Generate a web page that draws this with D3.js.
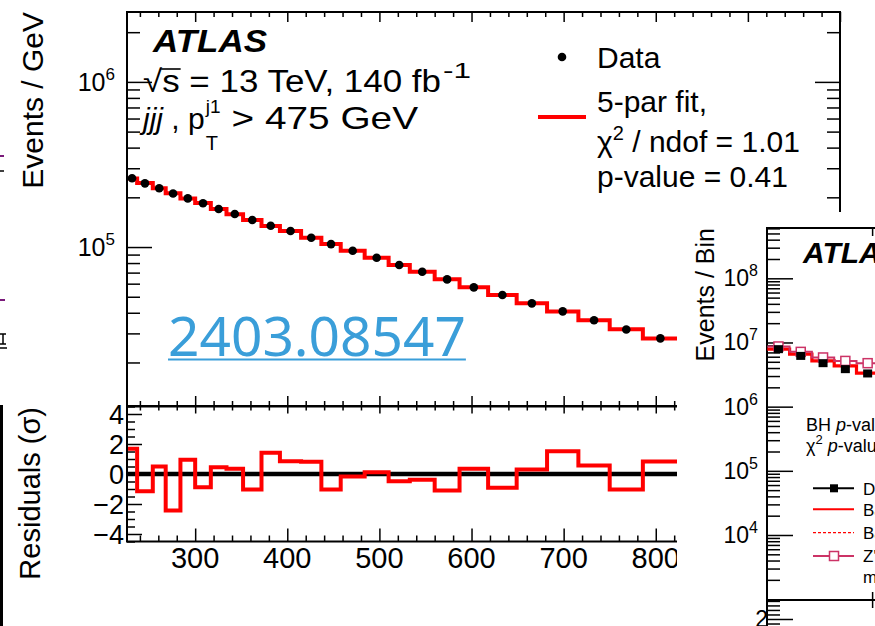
<!DOCTYPE html>
<html><head><meta charset="utf-8">
<script src="https://cdn.jsdelivr.net/npm/d3@7"></script>
<style>
body{margin:0;background:#fff}
svg{display:block}
text{font-family:"Liberation Sans",Arial,Helvetica,sans-serif;fill:#000}
</style>
</head><body>
<svg id="c" width="875" height="626"></svg>
<script>
// ---------------- main plot data (dijet mass, GeV) ----------------
const binEdges = [226, 237, 254, 268, 284, 300, 317, 334, 352, 372, 392, 415, 437, 458, 484, 510, 533, 560, 587, 618, 649, 682, 716, 750, 786, 824];
const dataValues = [2.61e5, 2.43e5, 2.27e5, 2.11e5, 1.97e5, 1.84e5, 1.70e5, 1.585e5, 1.458e5, 1.346e5, 1.25e5, 1.138e5, 1.042e5, 9.5e4, 8.61e4, 7.78e4, 7.08e4, 6.37e4, 5.70e4, 5.12e4, 4.56e4, 4.08e4, 3.60e4, 3.17e4, 2.80e4];
const fitValues  = [2.60e5, 2.44e5, 2.27e5, 2.12e5, 1.97e5, 1.85e5, 1.70e5, 1.58e5, 1.46e5, 1.34e5, 1.25e5, 1.137e5, 1.043e5, 9.5e4, 8.61e4, 7.79e4, 7.09e4, 6.38e4, 5.70e4, 5.13e4, 4.56e4, 4.07e4, 3.60e4, 3.18e4, 2.79e4];
const residuals  = [1.68, -1.15, 0.5, -2.43, 0.95, -0.88, 0.45, 0.35, -1.03, 1.41, 0.85, 0.81, -1.03, -0.17, 0.12, -0.48, -0.39, -1.1, 0.35, -0.92, 0.3, 1.52, 0.57, -1.03, 0.83];
const xDomain = [226, 1000];
const xMajorTicks = [300, 400, 500, 600, 700, 800, 900, 1000];
const xTickLabels = ["300", "400", "500", "600", "700", "800", "900", "1000"];
const yUpperDomain = [1.09e4, 2.65e6];
const yDecades = [5, 6];
const resDomain = [-4.5, 4.5];
const resMajorTicks = [-4, -2, 0, 2, 4];

// ---------------- overlapping second plot ----------------
const p2BinEdges = [0, 1, 2, 3, 4, 5];
const p2Data   = [7.87e6, 6.18e6, 4.76e6, 3.84e6, 3.29e6];
const p2Fit    = [7.87e6, 6.58e6, 5.16e6, 4.32e6, 3.33e6];
const p2Signal = [8.67e6, 7.14e6, 5.84e6, 5.16e6, 4.76e6];
const p2XDomain = [0, 5];
const p2XTicks = [4.7];
const p2YDomain = [Math.pow(10, 2.987), Math.pow(10, 8.784)];
const p2Decades = [4, 5, 6, 7, 8];
const p2RatioDomain = [1.845, 2.42];
const p2RatioTicks = [2];

const svg = d3.select("#c");

function logMinor(dom, d0, d1) {
  const out = [];
  for (let d = d0; d <= d1; d++) for (let k = 2; k <= 9; k++) {
    const v = k * Math.pow(10, d);
    if (v >= dom[0] && v <= dom[1]) out.push(v);
  }
  return out;
}
function tickGroup(parent, axisFn, scale, values, size, tx, ty, sw) {
  const g = parent.append("g").attr("transform", `translate(${tx},${ty})`)
    .call(axisFn(scale).tickValues(values).tickSize(size).tickFormat(""));
  g.select(".domain").remove();
  g.selectAll("line").attr("stroke", "#000").attr("stroke-width", sw || 1.5);
  return g;
}

// ================= MAIN PLOT =================
const x = d3.scaleLinear().domain(xDomain).range([127, 840]);
const yU = d3.scaleLog().domain(yUpperDomain).range([406, 12]);
const yR = d3.scaleLinear().domain(resDomain).range([541.5, 406.5]);

const main = svg.append("g");
const xMinor = d3.range(240, 1001, 20).filter(v => v % 100 !== 0);
const yMinor = logMinor(yUpperDomain, 4, 6);

tickGroup(main, d3.axisLeft, yU, yDecades.map(d => Math.pow(10, d)), -25, 127, 0);
tickGroup(main, d3.axisLeft, yU, yMinor, -13, 127, 0);
tickGroup(main, d3.axisRight, yU, yDecades.map(d => Math.pow(10, d)), -25, 840, 0);
tickGroup(main, d3.axisRight, yU, yMinor, -13, 840, 0);
tickGroup(main, d3.axisTop, x, xMajorTicks, -10, 0, 12);
tickGroup(main, d3.axisTop, x, xMinor, -5, 0, 12);
tickGroup(main, d3.axisBottom, x, xMajorTicks, -10, 0, 406);
tickGroup(main, d3.axisBottom, x, xMinor, -5, 0, 406);
tickGroup(main, d3.axisTop, x, xMajorTicks, -7, 0, 406.5);
tickGroup(main, d3.axisTop, x, xMinor, -4, 0, 406.5);
tickGroup(main, d3.axisBottom, x, xMajorTicks, -13, 0, 541.5);
tickGroup(main, d3.axisBottom, x, xMinor, -6, 0, 541.5);
const resMinor = d3.range(-4.5, 4.51, 0.5).filter(v => Math.abs(v % 2) > 1e-6);
tickGroup(main, d3.axisLeft, yR, resMajorTicks, -15, 127, 0);
tickGroup(main, d3.axisLeft, yR, resMinor, -8, 127, 0);
tickGroup(main, d3.axisRight, yR, resMajorTicks, -15, 840, 0);
tickGroup(main, d3.axisRight, yR, resMinor, -8, 840, 0);

main.append("rect").attr("x", 127).attr("y", 12).attr("width", 713).attr("height", 394)
  .attr("fill", "none").attr("stroke", "#000").attr("stroke-width", 2);
main.append("rect").attr("x", 127).attr("y", 406.5).attr("width", 713).attr("height", 135)
  .attr("fill", "none").attr("stroke", "#000").attr("stroke-width", 2);

yDecades.forEach(d => {
  const t = main.append("text").attr("x", 115).attr("y", yU(Math.pow(10, d)) + 9)
    .attr("text-anchor", "end").attr("font-size", 25);
  t.append("tspan").text("10");
  t.append("tspan").attr("dy", -11).attr("font-size", 17).text(String(d));
});
resMajorTicks.forEach(v => {
  main.append("text").attr("x", 124).attr("y", yR(v) + 9.5).attr("text-anchor", "end")
    .attr("font-size", 27).text(v < 0 ? "\u2212" + Math.abs(v) : String(v));
});
xMajorTicks.forEach((v, i) => {
  main.append("text").attr("x", x(v)).attr("y", 568).attr("text-anchor", "middle")
    .attr("font-size", 29).text(xTickLabels[i]);
});
main.append("text").attr("transform", "translate(43,12) rotate(-90)").attr("text-anchor", "end")
  .attr("font-size", 30).text("Events / GeV");
main.append("text").attr("transform", "translate(40,407) rotate(-90)").attr("text-anchor", "end")
  .attr("font-size", 29).text("Residuals (\u03c3)");

const defs = svg.append("defs");
defs.append("clipPath").attr("id", "clipU").append("rect").attr("x", 128).attr("y", 13).attr("width", 711).attr("height", 392);
defs.append("clipPath").attr("id", "clipR").append("rect").attr("x", 128).attr("y", 407.5).attr("width", 711).attr("height", 133);

const stepPts = (vals) => vals.map((v, i) => [binEdges[i], v]).concat([[binEdges[vals.length], vals[vals.length - 1]]]);
main.append("path").attr("clip-path", "url(#clipU)")
  .attr("d", d3.line().x(d => x(d[0])).y(d => yU(d[1])).curve(d3.curveStepAfter)(stepPts(fitValues)))
  .attr("fill", "none").attr("stroke", "#ff0000").attr("stroke-width", 4);
main.append("g").attr("clip-path", "url(#clipU)").selectAll("circle").data(dataValues).join("circle")
  .attr("cx", (d, i) => x((binEdges[i] + binEdges[i + 1]) / 2)).attr("cy", d => yU(d)).attr("r", 4.3).attr("fill", "#000");

main.append("line").attr("x1", 128).attr("x2", 839).attr("y1", yR(0)).attr("y2", yR(0))
  .attr("stroke", "#000").attr("stroke-width", 4.5);
main.append("path").attr("clip-path", "url(#clipR)")
  .attr("d", d3.line().x(d => x(d[0])).y(d => yR(d[1])).curve(d3.curveStepAfter)(stepPts(residuals)))
  .attr("fill", "none").attr("stroke", "#ff0000").attr("stroke-width", 4);

// ATLAS label and info
main.append("text").attr("x", 153).attr("y", 52).attr("font-size", 32).attr("font-weight", "bold")
  .attr("font-style", "italic").attr("textLength", 114).attr("lengthAdjust", "spacingAndGlyphs").text("ATLAS");
{
  const t = main.append("text").attr("x", 143).attr("y", 92).attr("font-size", 31)
    .attr("textLength", 298).attr("lengthAdjust", "spacingAndGlyphs");
  t.append("tspan").text("\u221as = 13 TeV, 140 fb");
  const n = t.node();
  const wr = n.getStartPositionOfChar(1).x, ws = n.getEndPositionOfChar(1).x;
  main.append("line").attr("x1", wr - 1).attr("x2", ws + 1).attr("y1", 69).attr("y2", 69)
    .attr("stroke", "#000").attr("stroke-width", 1.6);
  main.append("text").attr("x", 143 + 298 + 2).attr("y", 78).attr("font-size", 22)
    .attr("textLength", 28).attr("lengthAdjust", "spacingAndGlyphs").text("-1");
}
{
  const t = main.append("text").attr("x", 143).attr("y", 129).attr("font-size", 30);
  t.append("tspan").attr("font-style", "italic").text("jjj");
  t.append("tspan").text(" , p");
  const w = t.node().getComputedTextLength();
  const sup = main.append("text").attr("x", 143 + w + 1).attr("y", 113).attr("font-size", 19).text("j1");
  const sub = main.append("text").attr("x", 143 + w + 1).attr("y", 150).attr("font-size", 20).text("T");
  const w2 = Math.max(sup.node().getComputedTextLength(), sub.node().getComputedTextLength());
  const xs = 143 + w + w2 + 12;
  main.append("text").attr("x", xs).attr("y", 129).attr("font-size", 32)
    .attr("textLength", 418 - xs).attr("lengthAdjust", "spacingAndGlyphs").text("> 475 GeV");
}
// legend
main.append("circle").attr("cx", 562).attr("cy", 57).attr("r", 4.3).attr("fill", "#000");
main.append("line").attr("x1", 538).attr("x2", 586).attr("y1", 117).attr("y2", 117).attr("stroke", "#ff0000").attr("stroke-width", 4);
main.append("text").attr("x", 597).attr("y", 68).attr("font-size", 30).text("Data");
main.append("text").attr("x", 597).attr("y", 112).attr("font-size", 30).text("5-par fit,");
{
  const t = main.append("text").attr("x", 597).attr("y", 152).attr("font-size", 30);
  t.append("tspan").text("\u03c7");
  t.append("tspan").attr("dy", -12).attr("font-size", 20).text("2");
  t.append("tspan").attr("dy", 12).text(" / ndof = 1.01");
}
main.append("text").attr("x", 597).attr("y", 187).attr("font-size", 30).text("p-value = 0.41");

// arXiv link
{
  const t = svg.append("text").attr("x", 168).attr("y", 356).attr("font-size", 55)
    .style("font-family", '"Noto Sans","Open Sans",sans-serif').style("fill", "#3a9ed9").text("2403.08547");
  const w = t.node().getComputedTextLength();
  svg.append("line").attr("x1", 168).attr("x2", 168 + w).attr("y1", 359.5).attr("y2", 359.5)
    .attr("stroke", "#3a9ed9").attr("stroke-width", 2.2);
}

// fragments at left edge of the collage
svg.append("line").attr("x1", 0).attr("x2", 4).attr("y1", 156).attr("y2", 156).attr("stroke", "#7a1a7a").attr("stroke-width", 2);
svg.append("line").attr("x1", 0).attr("x2", 4).attr("y1", 171).attr("y2", 171).attr("stroke", "#000").attr("stroke-width", 1.5);
svg.append("line").attr("x1", 0).attr("x2", 5).attr("y1", 300).attr("y2", 300).attr("stroke", "#7a1a7a").attr("stroke-width", 2);
svg.append("path").attr("d", "M0,334 L6,334 M0,344 L6,344 M3,334 L3,344 M0,348 L7,348").attr("stroke", "#000").attr("stroke-width", 1.5).attr("fill", "none");
svg.append("rect").attr("x", 0).attr("y", 405).attr("width", 3).attr("height", 221).attr("fill", "#000");

// ================= OVERLAPPING SECOND PLOT =================
svg.append("rect").attr("x", 677).attr("y", 212).attr("width", 198).attr("height", 414).attr("fill", "#fff");
defs.append("clipPath").attr("id", "clip2").append("rect").attr("x", 677).attr("y", 212).attr("width", 198).attr("height", 414);
const p2 = svg.append("g").attr("clip-path", "url(#clip2)");
const x2 = d3.scaleLinear().domain(p2XDomain).range([767.3, 878.8]);
const y2 = d3.scaleLog().domain(p2YDomain).range([600, 228]);
const r2 = d3.scaleLinear().domain(p2RatioDomain).range([626, 600]);

tickGroup(p2, d3.axisLeft, y2, p2Decades.map(d => Math.pow(10, d)), -26, 767, 0);
tickGroup(p2, d3.axisLeft, y2, logMinor(p2YDomain, 2, 8), -13, 767, 0);
tickGroup(p2, d3.axisTop, x2, p2XTicks, -8, 0, 228);
tickGroup(p2, d3.axisBottom, x2, p2XTicks, -8, 0, 600);
tickGroup(p2, d3.axisTop, x2, p2XTicks, -8, 0, 600);
tickGroup(p2, d3.axisLeft, r2, p2RatioTicks, -26, 767, 0);
tickGroup(p2, d3.axisLeft, r2, [1.9, 2.1, 2.2, 2.3, 2.4], -13, 767, 0);
p2.append("line").attr("x1", 767).attr("x2", 767).attr("y1", 227).attr("y2", 626).attr("stroke", "#000").attr("stroke-width", 2);
p2.append("line").attr("x1", 766).attr("x2", 880).attr("y1", 228).attr("y2", 228).attr("stroke", "#000").attr("stroke-width", 2);
p2.append("line").attr("x1", 766).attr("x2", 880).attr("y1", 600).attr("y2", 600).attr("stroke", "#000").attr("stroke-width", 2);

p2Decades.forEach(d => {
  const t = p2.append("text").attr("x", 758).attr("y", y2(Math.pow(10, d)) + 8)
    .attr("text-anchor", "end").attr("font-size", 23);
  t.append("tspan").text("10");
  t.append("tspan").attr("dy", -10).attr("font-size", 16).text(String(d));
});
p2RatioTicks.forEach(v => {
  p2.append("text").attr("x", 768).attr("y", r2(v) + 8).attr("text-anchor", "end").attr("font-size", 23).text(String(v));
});
p2.append("text").attr("transform", "translate(714,228) rotate(-90)").attr("text-anchor", "end")
  .attr("font-size", 25).text("Events / Bin");
p2.append("text").attr("x", 803).attr("y", 263).attr("font-size", 30).attr("font-weight", "bold")
  .attr("font-style", "italic").text("ATLAS");

const stepPts2 = (vals) => vals.map((v, i) => [p2BinEdges[i], v]).concat([[p2BinEdges[vals.length], vals[vals.length - 1]]]);
const line2 = d3.line().x(d => x2(d[0])).y(d => y2(d[1])).curve(d3.curveStepAfter);
p2.append("path").attr("d", line2(stepPts2(p2Fit))).attr("fill", "none").attr("stroke", "#ff0000").attr("stroke-width", 3.2);
p2.append("path").attr("d", line2(stepPts2(p2Signal))).attr("fill", "none").attr("stroke", "#cc3366").attr("stroke-width", 2);
p2.append("g").selectAll("rect").data(p2Signal).join("rect")
  .attr("x", (d, i) => x2(p2BinEdges[i] + 0.5) - 4.5).attr("y", d => y2(d) - 4.5)
  .attr("width", 9).attr("height", 9).attr("fill", "#fff").attr("stroke", "#cc3366").attr("stroke-width", 1.5);
p2.append("g").selectAll("rect").data(p2Data).join("rect")
  .attr("x", (d, i) => x2(p2BinEdges[i] + 0.5) - 4.5).attr("y", d => y2(d) - 4)
  .attr("width", 9).attr("height", 8).attr("fill", "#000");

{
  const t = p2.append("text").attr("x", 806).attr("y", 431).attr("font-size", 18);
  t.append("tspan").text("BH ");
  t.append("tspan").attr("font-style", "italic").text("p");
  t.append("tspan").text("-value");
  const t2 = p2.append("text").attr("x", 806).attr("y", 452).attr("font-size", 18);
  t2.append("tspan").text("\u03c7");
  t2.append("tspan").attr("dy", -8).attr("font-size", 13).text("2");
  t2.append("tspan").attr("dy", 8).text(" ");
  t2.append("tspan").attr("font-style", "italic").text("p");
  t2.append("tspan").text("-value");
}
p2.append("line").attr("x1", 813).attr("x2", 854).attr("y1", 488.3).attr("y2", 488.3).attr("stroke", "#000").attr("stroke-width", 2);
p2.append("rect").attr("x", 830).attr("y", 484.3).attr("width", 8).attr("height", 8).attr("fill", "#000");
p2.append("line").attr("x1", 813).attr("x2", 854).attr("y1", 509.3).attr("y2", 509.3).attr("stroke", "#ff0000").attr("stroke-width", 2);
p2.append("line").attr("x1", 813).attr("x2", 854).attr("y1", 532.7).attr("y2", 532.7).attr("stroke", "#ff0000").attr("stroke-width", 1.3).attr("stroke-dasharray", "3,2");
p2.append("line").attr("x1", 813).attr("x2", 854).attr("y1", 556).attr("y2", 556).attr("stroke", "#cc3366").attr("stroke-width", 2);
p2.append("rect").attr("x", 829.5).attr("y", 551.5).attr("width", 9).attr("height", 9).attr("fill", "#fff").attr("stroke", "#cc3366").attr("stroke-width", 1.5);
[["Data", 495], ["Background fit", 516], ["Background", 539], ["Z'", 562], ["m", 583]].forEach(([s, yy]) => {
  p2.append("text").attr("x", 863).attr("y", yy).attr("font-size", 17).text(s);
});
</script>
</body></html>
